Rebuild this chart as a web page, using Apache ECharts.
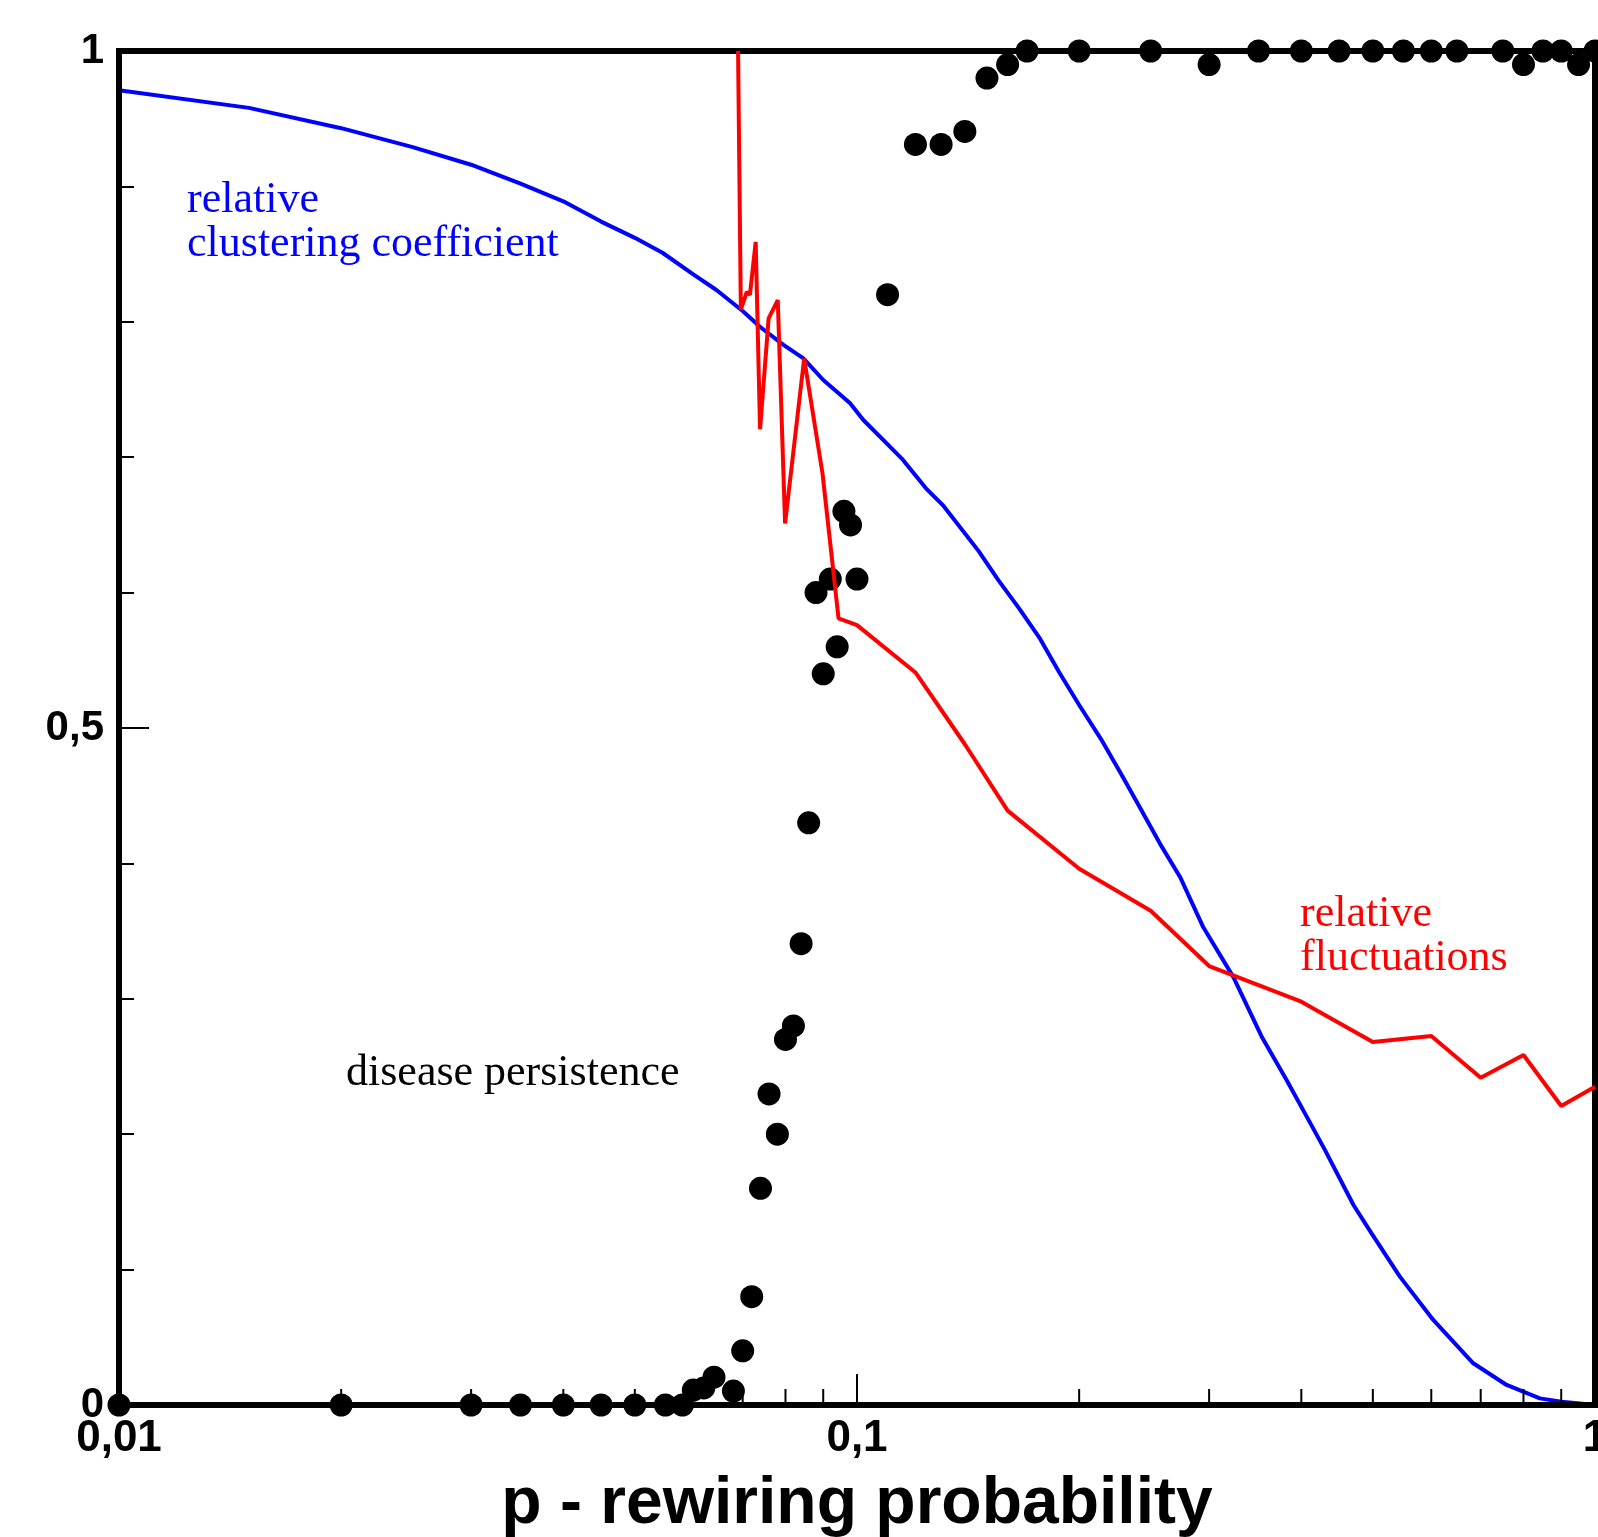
<!DOCTYPE html>
<html>
<head>
<meta charset="utf-8">
<script src="https://cdn.jsdelivr.net/npm/echarts@6/dist/echarts.min.js"></script>
<style>
html,body{margin:0;padding:0;background:#fff;}
#chart{width:1598px;height:1537px;}
</style>
</head>
<body>
<div id="chart"></div>
<script>
// ---- data ----
const clusteringP = [0.01,0.015,0.02,0.025,0.03,0.035,0.04,0.045,0.05,0.0545,0.06,0.0645,0.07,0.074,0.0795,0.0846,0.09,0.0978,0.102,0.1108,0.115,0.124,0.131,0.146,0.1555,0.166,0.177,0.188,0.2,0.214,0.228,0.243,0.259,0.274,0.2945,0.3236,0.3535,0.382,0.4068,0.43,0.4707,0.498,0.544,0.6037,0.684,0.759,0.842,0.901,1.0];
const clusteringC = [0.971,0.958,0.943,0.929,0.916,0.902,0.889,0.874,0.862,0.851,0.835,0.8235,0.808,0.796,0.783,0.773,0.757,0.740,0.7275,0.7078,0.699,0.677,0.664,0.631,0.609,0.588,0.566,0.541,0.517,0.492,0.466,0.439,0.412,0.390,0.353,0.316,0.272,0.240,0.213,0.189,0.1477,0.1268,0.0948,0.0628,0.0308,0.0148,0.0049,0.0024,0.0];

const fluctP = [0.069,0.0696,0.0709,0.0716,0.0729,0.0739,0.0759,0.0781,0.0799,0.0848,0.0898,0.0944,0.1,0.12,0.14,0.16,0.2,0.25,0.3,0.4,0.5,0.6,0.7,0.8,0.9,1.0];
const fluctV = [1.0,0.809,0.822,0.820,0.859,0.7206,0.8026,0.816,0.651,0.773,0.688,0.581,0.576,0.541,0.488,0.439,0.396,0.365,0.3242,0.2979,0.2681,0.2725,0.2417,0.2585,0.2208,0.235];

const diseaseP = [0.01,0.02,0.03,0.035,0.04,0.045,0.05,0.055,0.058,0.06,0.062,0.064,0.068,0.07,0.072,0.074,0.076,0.078,0.08,0.082,0.084,0.086,0.088,0.09,0.092,0.094,0.096,0.098,0.1,0.11,0.12,0.13,0.14,0.15,0.16,0.17,0.2,0.25,0.3,0.35,0.4,0.45,0.5,0.55,0.6,0.65,0.75,0.8,0.85,0.9,0.95,1.0];
const diseaseV = [0,0,0,0,0,0,0,0,0,0.011,0.0126,0.0205,0.0103,0.040,0.080,0.160,0.2297,0.200,0.270,0.280,0.3407,0.430,0.600,0.540,0.610,0.560,0.660,0.650,0.610,0.820,0.931,0.931,0.9406,0.980,0.99,1,1,1,0.99,1,1,1,1,1,1,1,1,0.99,1,1,0.99,1];

const xMajorTicks = [0.01, 0.1, 1];
const xMajorLabels = ['0,01', '0,1', '1'];
const xMinorTicks = [0.02,0.03,0.04,0.05,0.06,0.07,0.08,0.09,0.2,0.3,0.4,0.5,0.6,0.7,0.8,0.9];
const yTickValues = [0, 0.5, 1];
const yTickLabels = ['0', '0,5', '1'];
const xAxisTitle = 'p - rewiring probability';
const labelClustering = 'relative\nclustering coefficient';
const labelFluct = 'relative\nfluctuations';
const labelDisease = 'disease persistence';

function zip(a, b) { return a.map((v, i) => [v, b[i]]); }
function labelFor(values, labels) {
  return function (v) {
    for (let i = 0; i < values.length; i++) {
      if (Math.abs(v - values[i]) < 1e-9 * Math.max(1, values[i])) return labels[i];
    }
    return '';
  };
}

const chart = echarts.init(document.getElementById('chart'), null, {renderer: 'canvas'});

const option = {
  backgroundColor: '#ffffff',
  animation: false,
  grid: {
    left: 119, right: 3, top: 51, bottom: 132,
    containLabel: false, outerBoundsMode: 'none',
    show: true, borderColor: '#000', borderWidth: 6, backgroundColor: 'transparent'
  },
  xAxis: {
    type: 'log', logBase: 10, min: 0.01, max: 1,
    z: 5,
    axisLine: {show: true, lineStyle: {color: '#000', width: 6}},
    axisTick: {show: true, inside: true, length: 31, lineStyle: {color: '#000', width: 2}},
    splitLine: {show: false},
    axisLabel: {
      show: true, margin: 12, color: '#000',
      fontFamily: '"Liberation Sans", Arial, sans-serif', fontWeight: 'bold', fontSize: 44,
      showMinLabel: true, showMaxLabel: true, hideOverlap: false,
      formatter: labelFor(xMajorTicks, xMajorLabels)
    },
    name: xAxisTitle, nameLocation: 'middle', nameGap: 67,
    nameTextStyle: {color: '#000', fontFamily: '"Liberation Sans", Arial, sans-serif', fontWeight: 'bold', fontSize: 66}
  },
  yAxis: {
    type: 'value', min: 0, max: 1, interval: 0.5,
    z: 5,
    axisLine: {show: true, lineStyle: {color: '#000', width: 6}},
    axisTick: {show: true, inside: true, length: 30, lineStyle: {color: '#000', width: 2}},
    minorTick: {show: true, splitNumber: 5, length: 15, lineStyle: {color: '#000', width: 2}},
    splitLine: {show: false},
    minorSplitLine: {show: false},
    axisLabel: {
      show: true, margin: 15, color: '#000',
      fontFamily: '"Liberation Sans", Arial, sans-serif', fontWeight: 'bold', fontSize: 42,
      formatter: labelFor(yTickValues, yTickLabels)
    }
  },
  series: [
    {
      name: 'minor ticks', type: 'custom', silent: true, z: 6,
      data: xMinorTicks.map(p => [p, 0]),
      renderItem: function (params, api) {
        const pt = api.coord([api.value(0), 0]);
        return {
          type: 'line',
          shape: {x1: pt[0], y1: pt[1], x2: pt[0], y2: pt[1] - 16},
          style: {stroke: '#000', lineWidth: 2}
        };
      }
    },
    {
      name: 'relative clustering coefficient', type: 'line', z: 2,
      data: zip(clusteringP, clusteringC),
      showSymbol: false, symbol: 'none', smooth: false,
      lineStyle: {color: '#0000ff', width: 4}
    },
    {
      name: 'disease persistence', type: 'scatter', z: 3, clip: false,
      data: zip(diseaseP, diseaseV),
      symbol: 'circle', symbolSize: 23,
      itemStyle: {color: '#000', opacity: 1}
    },
    {
      name: 'relative fluctuations', type: 'line', z: 4,
      data: zip(fluctP, fluctV),
      showSymbol: false, symbol: 'none', smooth: false,
      lineStyle: {color: '#ff0000', width: 4}
    }
  ],
  graphic: [
    {type: 'text', left: 187, top: 178, z: 10,
     style: {text: labelClustering, fill: '#0000ff', font: '44px "Liberation Serif", "Times New Roman", serif', lineHeight: 44}},
    {type: 'text', left: 1300, top: 892, z: 10,
     style: {text: labelFluct, fill: '#ff0000', font: '44px "Liberation Serif", "Times New Roman", serif', lineHeight: 44}},
    {type: 'text', left: 346, top: 1051, z: 10,
     style: {text: labelDisease, fill: '#000000', font: '44px "Liberation Serif", "Times New Roman", serif', lineHeight: 44}}
  ]
};
chart.setOption(option);
</script>
</body>
</html>
